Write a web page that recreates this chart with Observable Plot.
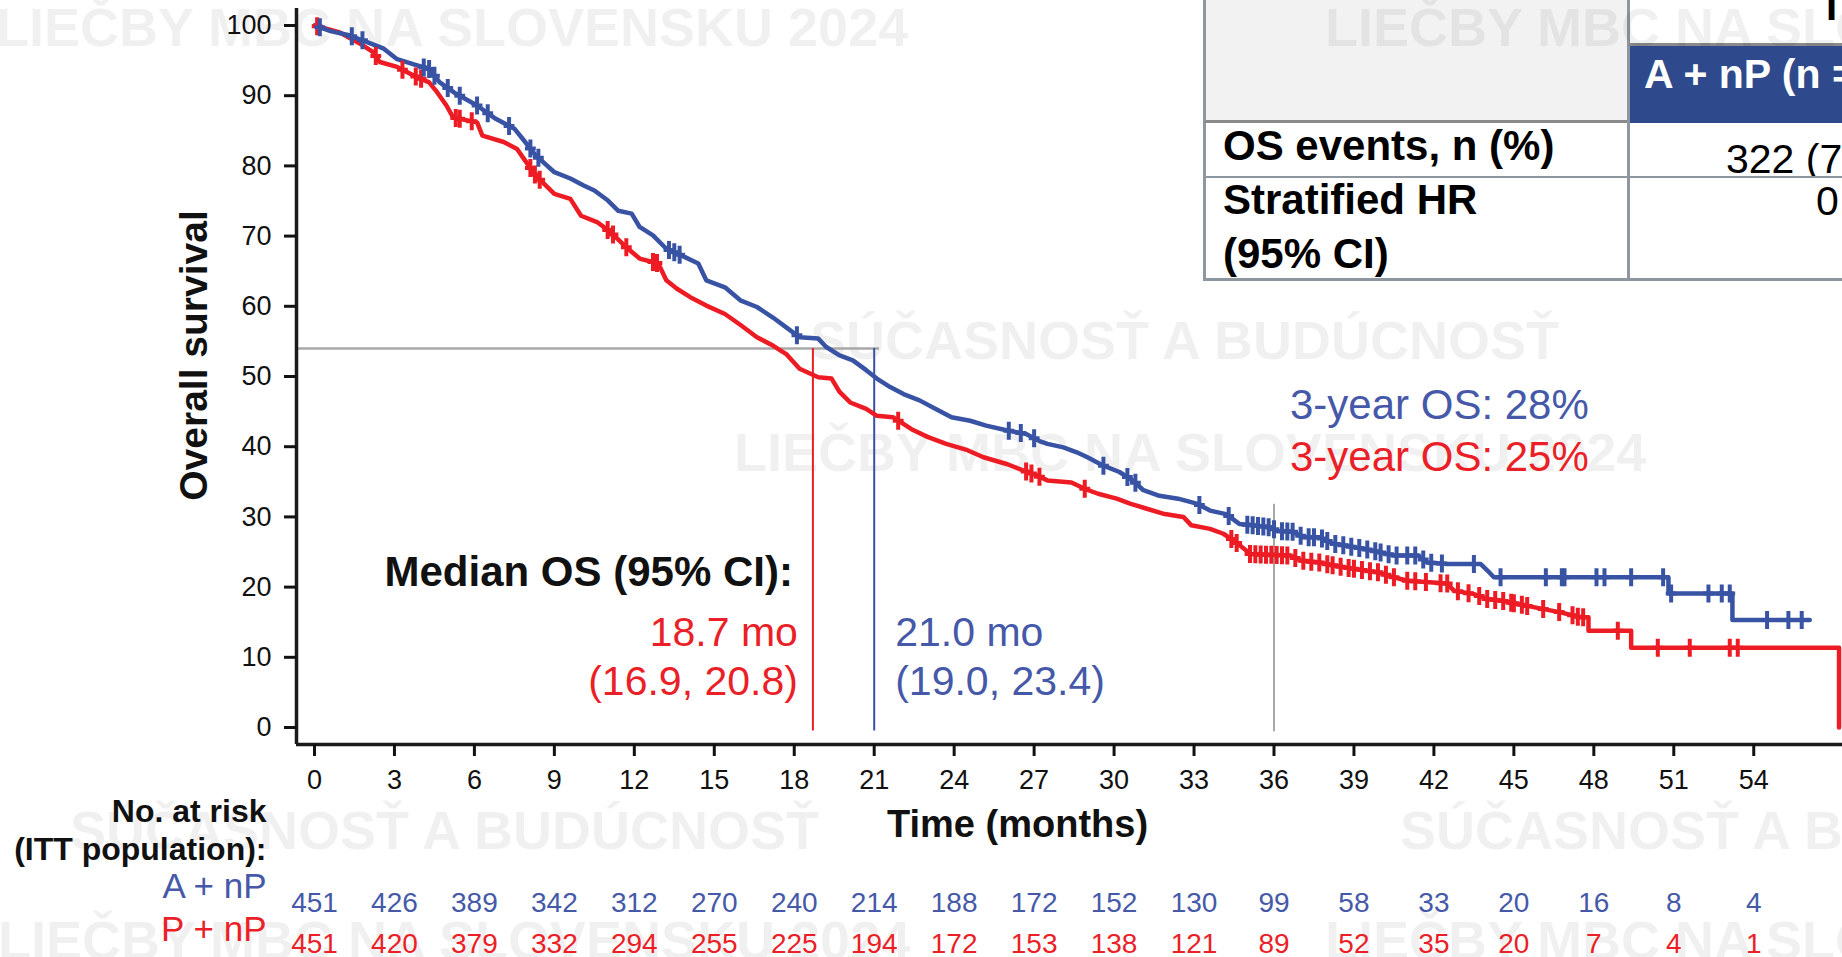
<!DOCTYPE html>
<html>
<head>
<meta charset="utf-8">
<script src="https://cdn.jsdelivr.net/npm/d3@7"></script>
<script src="https://cdn.jsdelivr.net/npm/@observablehq/plot@0.6"></script>
<style>
html,body{margin:0;padding:0;background:#fff;}
#wrap{position:relative;width:1842px;height:957px;overflow:hidden;font-family:"Liberation Sans",Arial,sans-serif;}
.cell{position:absolute;box-sizing:border-box;overflow:hidden;white-space:nowrap;}
.t{position:absolute;white-space:nowrap;line-height:1;}
.wm{position:absolute;white-space:nowrap;font-weight:bold;font-size:54px;line-height:1;color:rgba(0,0,0,0.06);transform:translateY(-50%);}
#tbl,#wmk,#chart{position:absolute;left:0;top:0;width:1842px;height:957px;}
#wmk{pointer-events:none;}
</style>
</head>
<body>
<div id="wrap">
  <div id="tbl"></div>
  <div id="wmk"></div>
  <div id="chart"></div>
</div>
<script>
// ---------- DATA ----------
// Kaplan-Meier OS, A + nP (blue): months, OS %
const blueTime = [0,0.6,1.3,2.0,2.6,3.1,3.7,4.3,4.7,5.3,6.1,6.8,7.5,7.8,8.3,9.0,9.6,10.1,10.5,11.0,11.4,11.9,12.2,12.7,13.2,13.9,14.4,14.7,15.4,16.0,16.6,17.2,17.7,18.2,18.9,19.2,19.7,20.2,20.7,21.1,21.6,22.1,22.7,23.4,23.9,24.6,25.2,26.0,26.7,27.2,27.5,28.1,28.6,29.0,29.6,30.2,30.7,31.1,31.7,32.4,33.1,33.6,34.2,34.7,35.2,35.9,36.1,36.7,37.1,37.7,38.2,39.0,39.7,40.5,41.4,41.75,42.5,43.75,44.0,44.25,50.8,50.8,53.2,53.2,56.1];
const blueOS   = [100,99.2,98.6,97.6,96.7,95.2,94.5,93.8,91.9,90.3,88.6,86.7,85.3,83.9,81.5,79.1,78.2,77.2,76.5,75.1,73.6,73.2,71.3,70.1,68.2,67.0,66.1,63.7,62.7,60.8,59.9,58.4,57.0,55.6,55.4,54.2,53.0,52.3,50.9,49.7,48.5,47.5,46.6,45.2,44.2,43.7,43.0,42.3,41.8,40.8,40.4,39.9,39.2,38.5,37.3,36.4,35.2,33.8,33.0,32.6,31.9,30.9,30.4,29.0,28.8,28.5,28.0,27.9,27.1,27.1,26.2,25.7,25.2,24.5,24.5,23.5,23.3,23.3,22.4,21.4,21.4,19.1,19.1,15.3,15.3];
// Kaplan-Meier OS, P + nP (red)
const redTime = [0,0.95,1.8,2.2,2.45,3.1,3.7,4.3,4.6,4.95,5.2,6.1,6.3,7.1,7.6,7.95,8.3,9.0,9.6,10.0,10.6,11.1,11.7,12.2,12.9,13.2,13.6,14.1,14.7,15.4,16.0,16.6,17.2,17.7,18.2,18.9,19.4,19.7,20.1,20.7,21.1,21.7,22.4,23.0,23.7,24.5,25.1,26.0,26.6,27.1,27.5,28.4,28.9,29.4,30.1,30.6,31.2,31.9,32.6,32.9,33.6,34.1,34.5,34.9,35.1,36.6,37.0,37.7,38.2,39.0,39.9,40.5,41.0,42.5,42.75,43.5,44.0,44.5,45.4,46.75,47.5,47.8,47.8,49.4,49.4,57.2,57.2];
const redOS   = [100,99.0,97.2,96.2,94.8,94.1,92.9,91.9,90.5,88.6,86.9,86.2,84.3,83.4,82.4,80.5,78.6,76.0,75.3,72.9,72.0,70.6,68.4,66.8,66.1,63.7,62.5,61.3,60.1,58.9,57.3,55.6,54.4,53.2,51.1,49.9,49.7,47.8,46.3,45.4,44.4,44.2,42.5,41.4,40.4,39.5,38.5,37.5,36.6,35.9,35.2,34.9,34.0,33.3,32.6,31.9,31.2,30.4,30.0,28.8,28.3,27.6,26.6,25.4,24.7,24.5,23.8,23.5,23.1,22.6,22.1,21.4,20.9,20.5,19.5,19.0,18.3,18.1,17.4,16.4,15.7,15.7,13.8,13.8,11.35,11.35,0];
// Censoring times (months)
const blueCensor = [0.2,1.4,1.8,4.1,4.3,4.5,5.0,5.45,6.1,6.5,7.3,8.1,8.4,13.3,13.5,13.7,18.1,26.05,26.5,27.0,29.6,30.5,30.8,33.2,34.3,35.0,35.2,35.4,35.6,35.8,36.0,36.3,36.5,36.7,37.0,37.3,37.5,37.8,38.0,38.3,38.6,38.9,39.2,39.5,39.8,40.0,40.3,40.6,41.0,41.3,41.6,41.9,42.3,43.5,44.5,46.2,46.8,46.9,48.1,48.4,49.4,50.6,50.9,52.3,52.8,53.1,54.5,55.3,55.8];
const redCensor = [0.1,2.3,3.3,3.8,4.0,5.3,5.45,5.9,8.1,8.27,8.45,11.0,11.2,11.7,12.7,12.85,21.9,26.7,26.9,27.2,28.9,34.4,34.6,35.1,35.3,35.5,35.7,35.9,36.1,36.3,36.5,36.8,37.1,37.4,37.7,38.0,38.2,38.5,38.8,39.0,39.3,39.6,39.9,40.2,40.5,41.0,41.3,41.7,42.25,42.5,42.9,43.3,43.7,44.0,44.3,44.6,44.9,45.0,45.3,45.5,46.1,46.7,47.2,47.4,47.6,48.9,50.4,51.6,53.1,53.4];
// Axis ticks
const timeTicks = [0,3,6,9,12,15,18,21,24,27,30,33,36,39,42,45,48,51,54];
const osTicks = [0,10,20,30,40,50,60,70,80,90,100];
// Numbers at risk
const blueRisk = [451,426,389,342,312,270,240,214,188,172,152,130,99,58,33,20,16,8,4];
const redRisk  = [451,420,379,332,294,255,225,194,172,153,138,121,89,52,35,20,7,4,1];
// Medians and landmarks
const medianRed = 18.7, medianBlue = 21.0;
const medianGuideLevel = 54;     // drawn level of the horizontal guide
const medianGuideEnd = 21.2;
const landmark = 36, landmarkTop = 31.8;
// Labels
const xLabel = "Time (months)";
const yLabel = "Overall survival";
const medianTitle = "Median OS (95% CI):";
const redMedianText = ["18.7 mo", "(16.9, 20.8)"];
const blueMedianText = ["21.0 mo", "(19.0, 23.4)"];
const blueLandmarkText = "3-year OS: 28%";
const redLandmarkText = "3-year OS: 25%";
const riskTitle = ["No. at risk", "(ITT population):"];
const armNames = ["A + nP", "P + nP"];
const tableRows = ["OS events, n (%)", "Stratified HR", "(95% CI)"];
const tableHeader = "A + nP (n = 451)";
const tableValues = ["322 (71%)", "0.87 (0.75, 1.02)"];
const watermarkA = "LIEČBY MBC NA SLOVENSKU 2024";
const watermarkB = "SÚČASNOSŤ A BUDÚCNOSŤ";

// ---------- STYLE ----------
const BLUE = "#3953a4", RED = "#ed1c24";
const BLUE_T = "#4659a9", RED_T = "#ea1f27";
const GRAY = "#a8a8a8";

// ---------- BUILD ----------
const blueData = blueTime.map((t, i) => ({t, s: blueOS[i]}));
const redData = redTime.map((t, i) => ({t, s: redOS[i]}));
function onCurve(data, t) {
  for (let i = 1; i < data.length; i++) {
    const a = data[i - 1], b = data[i];
    if (t >= a.t && t <= b.t) {
      if (b.t === a.t) return a.s;
      return a.s + (b.s - a.s) * (t - a.t) / (b.t - a.t);
    }
  }
  return data[data.length - 1].s;
}
const blueCens = blueCensor.map(t => ({t, s: onCurve(blueData, t)}));
const redCens = redCensor.map(t => ({t, s: onCurve(redData, t)}));
const riskRows = timeTicks.map((t, i) => ({t, blue: blueRisk[i], red: redRisk[i]}));

const censorSymbol = {
  draw(context, size) {
    const r = Math.sqrt(size / Math.PI);
    context.moveTo(0, -r); context.lineTo(0, r);
    context.moveTo(-r * 0.6, 0); context.lineTo(r * 0.6, 0);
  }
};

const xDomain = [-0.675, 57.33];
const yDomain = [-2.42, 102.42];
const FONT = "'Liberation Sans', Arial, sans-serif";

const chart = Plot.plot({
  width: 1842, height: 957,
  marginLeft: 296, marginRight: 0, marginTop: 8, marginBottom: 213,
  x: {domain: xDomain},
  y: {domain: yDomain},
  style: {fontFamily: FONT, fontSize: "27px", background: "transparent", color: "#111", overflow: "visible"},
  marks: [
    // median guides
    Plot.ruleY([medianGuideLevel], {x1: xDomain[0], x2: medianGuideEnd, stroke: GRAY, strokeWidth: 2.5}),
    Plot.ruleX([{t: medianRed, c: RED}, {t: medianBlue, c: BLUE}], {x: "t", y1: medianGuideLevel, y2: -0.5, stroke: "c", strokeWidth: 2}),
    Plot.ruleX([landmark], {y1: landmarkTop, y2: -0.6, stroke: GRAY, strokeWidth: 2}),
    // curves
    Plot.line(redData, {x: "t", y: "s", stroke: RED, strokeWidth: 4.5}),
    Plot.line(blueData, {x: "t", y: "s", stroke: BLUE, strokeWidth: 4.5}),
    Plot.dot(redCens, {x: "t", y: "s", symbol: censorSymbol, r: 9, fill: "none", stroke: RED, strokeWidth: 4}),
    Plot.dot(blueCens, {x: "t", y: "s", symbol: censorSymbol, r: 9, fill: "none", stroke: BLUE, strokeWidth: 4}),
    // axes
    Plot.ruleY([yDomain[0]], {stroke: "#1a1a1a", strokeWidth: 3.5}),
    Plot.ruleX([xDomain[0]], {stroke: "#1a1a1a", strokeWidth: 3.5}),
    Plot.axisX({ticks: timeTicks, tickSize: 12, tickPadding: 13, fontSize: 27, strokeWidth: 3, label: null}),
    Plot.axisY({ticks: osTicks, tickSize: 12, tickPadding: 13, fontSize: 27, strokeWidth: 3, label: null}),
    // axis titles
    Plot.text([xLabel], {text: d => d, frameAnchor: "bottom", textAnchor: "middle", dx: -52, dy: 92, fontSize: 38, fontWeight: "bold", fill: "#111"}),
    Plot.text([yLabel], {text: d => d, frameAnchor: "left", textAnchor: "middle", rotate: -90, dx: -102, dy: -21, fontSize: 39, fontWeight: "bold", fill: "#111"}),
    // median annotation
    Plot.text([medianTitle], {text: d => d, x: medianRed, frameAnchor: "bottom", textAnchor: "end", dx: -20, dy: -159, fontSize: 42, fontWeight: "bold", fill: "#111"}),
    Plot.text([redMedianText[0]], {text: d => d, x: medianRed, frameAnchor: "bottom", textAnchor: "end", dx: -15, dy: -99, fill: RED_T, fontSize: 41}),
    Plot.text([redMedianText[1]], {text: d => d, x: medianRed, frameAnchor: "bottom", textAnchor: "end", dx: -15, dy: -50, fill: RED_T, fontSize: 41}),
    Plot.text([blueMedianText[0]], {text: d => d, x: medianBlue, frameAnchor: "bottom", textAnchor: "start", dx: 21, dy: -99, fill: BLUE_T, fontSize: 41}),
    Plot.text([blueMedianText[1]], {text: d => d, x: medianBlue, frameAnchor: "bottom", textAnchor: "start", dx: 21, dy: -50, fill: BLUE_T, fontSize: 41}),
    // 3-year landmark
    Plot.text([blueLandmarkText], {text: d => d, x: landmark, frameAnchor: "bottom", textAnchor: "start", dx: 16, dy: -326, fill: BLUE_T, fontSize: 42}),
    Plot.text([redLandmarkText], {text: d => d, x: landmark, frameAnchor: "bottom", textAnchor: "start", dx: 16, dy: -274, fill: RED_T, fontSize: 42}),
    // risk table
    Plot.text([riskTitle[0]], {text: d => d, frameAnchor: "bottom-left", textAnchor: "end", dx: -30, dy: 77, fontSize: 32, fontWeight: "bold", fill: "#111"}),
    Plot.text([riskTitle[1]], {text: d => d, frameAnchor: "bottom-left", textAnchor: "end", dx: -30, dy: 115, fontSize: 32, fontWeight: "bold", fill: "#111"}),
    Plot.text([armNames[0]], {text: d => d, frameAnchor: "bottom-left", textAnchor: "end", dx: -30, dy: 153, fontSize: 35, fill: BLUE_T}),
    Plot.text([armNames[1]], {text: d => d, frameAnchor: "bottom-left", textAnchor: "end", dx: -30, dy: 196, fontSize: 35, fill: RED_T}),
    Plot.text(riskRows, {x: "t", text: "blue", frameAnchor: "bottom", textAnchor: "middle", dy: 167, fontSize: 28, fill: BLUE_T}),
    Plot.text(riskRows, {x: "t", text: "red", frameAnchor: "bottom", textAnchor: "middle", dy: 208, fontSize: 28, fill: RED_T})
  ]
});
document.getElementById("chart").appendChild(chart);

// ---------- TABLE (top right, partly cut off) ----------
const tbl = document.getElementById("tbl");
const B = "#8e96a0";
function box(css, html) {
  const d = document.createElement("div");
  d.className = "cell";
  d.style.cssText = css;
  if (html) d.innerHTML = html;
  tbl.appendChild(d);
  return d;
}
box(`left:1203px;top:-3px;width:425px;height:126px;background:#f2f2f2;border-left:3px solid ${B};border-bottom:3px solid #8a8a8a;`);
box(`left:1627px;top:-3px;width:240px;height:49px;background:#fff;border-left:3px solid ${B};border-bottom:3px solid #8a8a8a;`);
box(`left:1627px;top:46px;width:240px;height:77px;background:#2e4a8c;border-left:3px solid ${B};`,
  `<span class="t" style="left:14px;top:8px;font-size:41px;font-weight:bold;color:#fff;">${tableHeader}</span>`);
box(`left:1203px;top:123px;width:425px;height:56px;background:#fff;border-left:3px solid ${B};border-bottom:3px solid ${B};`,
  `<span class="t" style="left:17px;top:2px;font-size:42px;font-weight:bold;color:#000;">${tableRows[0]}</span>`);
box(`left:1627px;top:123px;width:240px;height:56px;background:#fff;border-left:3px solid ${B};border-bottom:3px solid ${B};`,
  `<span class="t" style="left:96px;top:16px;font-size:41px;color:#000;">${tableValues[0]}</span>`);
box(`left:1203px;top:178px;width:425px;height:103px;background:#fff;border-left:3px solid ${B};border-bottom:3px solid ${B};`,
  `<span class="t" style="left:17px;top:1px;font-size:42px;font-weight:bold;color:#000;">${tableRows[1]}</span><span class="t" style="left:17px;top:55px;font-size:42px;font-weight:bold;color:#000;">${tableRows[2]}</span>`);
box(`left:1627px;top:178px;width:240px;height:103px;background:#fff;border-left:3px solid ${B};border-bottom:3px solid ${B};`,
  `<span class="t" style="left:186px;top:3px;font-size:41px;color:#000;">${tableValues[1]}</span>`);
box(`left:1630px;top:0px;width:212px;height:44px;background:transparent;`,
  `<span class="t" style="left:196px;top:-14px;font-size:40px;font-weight:bold;color:#000;">ITT</span>`);

// ---------- WATERMARKS ----------
const wmk = document.getElementById("wmk");
const wms = [
  [watermarkA, -4, 27], [watermarkA, 1325, 27],
  [watermarkB, 810, 340], [watermarkA, 734, 452],
  [watermarkB, 70, 830], [watermarkB, 1400, 830],
  [watermarkA, -2, 940], [watermarkA, 1325, 940]
];
wms.forEach(([txt, x, y]) => {
  const d = document.createElement("div");
  d.className = "wm";
  d.style.left = x + "px";
  d.style.top = y + "px";
  d.textContent = txt;
  wmk.appendChild(d);
});
</script>
</body>
</html>
